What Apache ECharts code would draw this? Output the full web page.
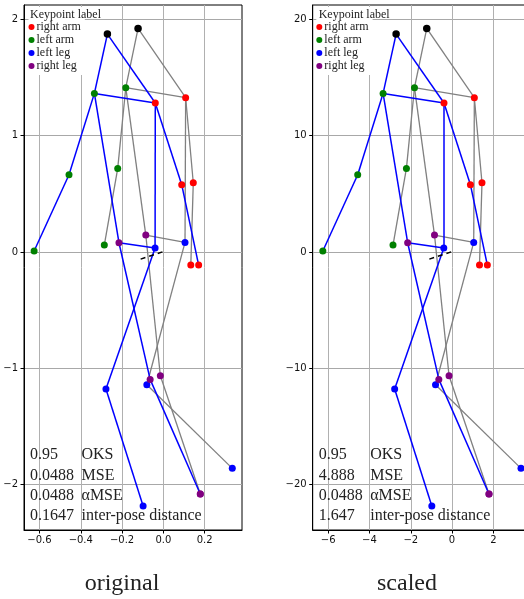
<!DOCTYPE html>
<html>
<head>
<meta charset="utf-8">
<script src="https://cdn.jsdelivr.net/npm/echarts@6/dist/echarts.min.js"></script>
<style>
  html, body { margin: 0; padding: 0; background: #fff; overflow: hidden; }
  /* right panel runs past the window edge, so the canvas is a bit wider than the window */
  #chart { width: 534px; height: 599px; }
</style>
</head>
<body>
<div id="chart"></div>
<script>
// ===== data (original units; the right panel is the same pose x10) =====
const SCALE = 10

// pose A (blue skeleton)
const POSE_A_X = [-0.271, -0.334, -0.039, -0.457, -0.626, 0.089, 0.171, -0.215, -0.040, -0.064, 0.179, -0.278, -0.098]
const POSE_A_Y = [1.874, 1.364, 1.281, 0.665, 0.009, 0.579, -0.112, 0.080, 0.034, -1.095, -2.081, -1.178, -2.184]
const POSE_A_LABEL = ['head', 'left arm', 'right arm', 'left arm', 'left arm', 'right arm', 'right arm',
  'right leg', 'left leg', 'right leg', 'right leg', 'left leg', 'left leg']

// pose B (gray skeleton)
const POSE_B_X = [-0.1225, -0.182, 0.108, -0.221, -0.286, 0.145, 0.133, -0.085, 0.105, -0.0145, 0.179, -0.080, 0.334]
const POSE_B_Y = [1.923, 1.413, 1.327, 0.719, 0.060, 0.596, -0.112, 0.146, 0.083, -1.064, -2.081, -1.141, -1.860]
const POSE_B_LABEL = POSE_A_LABEL

// skeleton links (index pairs into the pose arrays)
const LINKS = [[0, 1], [0, 2], [1, 2], [1, 3], [3, 4], [2, 5], [5, 6],
  [1, 7], [2, 8], [7, 8], [7, 9], [9, 10], [8, 11], [11, 12]]

// small dashed mark near the origin
const MARK_X = [-0.110, -0.003]
const MARK_Y = [-0.061, 0.002]

const LEGEND_NAMES = ['right arm', 'left arm', 'left leg', 'right leg']
const LABEL_COLORS = { 'head': '#000000', 'right arm': '#ff0000', 'left arm': '#008000', 'left leg': '#0000ff', 'right leg': '#800080' }

const X_TICKS_ORIG = [-0.6, -0.4, -0.2, 0, 0.2]
const Y_TICKS_ORIG = [-2, -1, 0, 1, 2]
const X_TICKS_SCALED = [-6, -4, -2, 0, 2]
const Y_TICKS_SCALED = [-20, -10, 0, 10, 20]

const METRIC_NAMES = ['OKS', 'MSE', '\u03b1MSE', 'inter-pose distance']
const METRICS_ORIG = ['0.95', '0.0488', '0.0488', '0.1647']
const METRICS_SCALED = ['0.95', '4.888', '0.0488', '1.647']

const PANEL_TITLES = ['original', 'scaled']

// ===== layout =====
const PANELS = [
  { left: 24, ticksX: X_TICKS_ORIG, ticksY: Y_TICKS_ORIG, scale: 1, metrics: METRICS_ORIG, decimals: 1, titleX: 122, legendLeft: 28.5 },
  { left: 312.7, ticksX: X_TICKS_SCALED, ticksY: Y_TICKS_SCALED, scale: SCALE, metrics: METRICS_SCALED, decimals: 0, titleX: 407, legendLeft: 316.3 },
]
const GRID_TOP = 5
const GRID_W = 218
const GRID_H = 525
const X_RANGE = [-0.675, 0.381]
const Y_RANGE = [-2.39, 2.124]

const SERIF = '"Liberation Serif", "Times New Roman", serif'
const SANS = '"DejaVu Sans", sans-serif'

const minus = s => String(s).replace('-', '\u2212')

function linkSeries(xs, ys, s, idx, color, width) {
  return {
    type: 'lines',
    coordinateSystem: 'cartesian2d',
    xAxisIndex: idx,
    yAxisIndex: idx,
    silent: true,
    z: color === '#0000ff' ? 3 : 2,
    lineStyle: { color, width, opacity: 1 },
    data: LINKS.map(([a, b]) => ({ coords: [[xs[a] * s, ys[a] * s], [xs[b] * s, ys[b] * s]] })),
  }
}

const grids = [], xAxes = [], yAxes = [], series = [], legends = [], graphics = []

PANELS.forEach((p, idx) => {
  const s = p.scale
  grids.push({ left: p.left, top: GRID_TOP, width: GRID_W, height: GRID_H, show: true, borderColor: '#000', borderWidth: 1, backgroundColor: 'transparent' })

  xAxes.push({
    type: 'value', gridIndex: idx, min: X_RANGE[0] * s, max: X_RANGE[1] * s,
    axisLine: { show: true, onZero: false, lineStyle: { color: '#000', width: 1 } },
    axisTick: { show: true, length: 3.5, lineStyle: { color: '#000' }, customValues: p.ticksX },
    axisLabel: { customValues: p.ticksX, margin: 5, fontSize: 10, fontFamily: SANS, color: '#111',
      formatter: v => minus(v.toFixed(p.decimals)) },
    splitLine: { show: true, lineStyle: { color: '#b0b0b0', width: 1 } },
  })
  yAxes.push({
    type: 'value', gridIndex: idx, min: Y_RANGE[0] * s, max: Y_RANGE[1] * s,
    axisLine: { show: true, onZero: false, lineStyle: { color: '#000', width: 1 } },
    axisTick: { show: true, length: 3.5, lineStyle: { color: '#000' }, customValues: p.ticksY },
    axisLabel: { customValues: p.ticksY, margin: 6, fontSize: 10, fontFamily: SANS, color: '#111',
      formatter: v => minus(v) },
    splitLine: { show: true, lineStyle: { color: '#a8a8a8', width: 1 } },
  })

  series.push(linkSeries(POSE_B_X, POSE_B_Y, s, idx, '#808080', 1.3))
  series.push(linkSeries(POSE_A_X, POSE_A_Y, s, idx, '#0000ff', 1.5))

  series.push({
    type: 'line', xAxisIndex: idx, yAxisIndex: idx, silent: true, symbol: 'none', z: 4,
    lineStyle: { color: '#000', width: 1.5, type: [5, 4] },
    data: MARK_X.map((x, i) => [x * s, MARK_Y[i] * s]),
  })

  Object.keys(LABEL_COLORS).forEach(name => {
    const pts = []
    POSE_B_LABEL.forEach((l, i) => { if (l === name) pts.push([POSE_B_X[i] * s, POSE_B_Y[i] * s]) })
    POSE_A_LABEL.forEach((l, i) => { if (l === name) pts.push([POSE_A_X[i] * s, POSE_A_Y[i] * s]) })
    series.push({
      name, type: 'scatter', xAxisIndex: idx, yAxisIndex: idx, silent: true, z: 5,
      symbol: 'circle', symbolSize: name === 'head' ? 7.5 : 7,
      itemStyle: { color: LABEL_COLORS[name], opacity: 1 },
      data: pts,
    })
  })

  legends.push({
    data: LEGEND_NAMES.map(n => ({ name: n, icon: 'circle' })),
    orient: 'vertical', left: p.legendLeft, top: 7,
    padding: [14, 4, 3, 0], itemGap: 1, itemWidth: 6, itemHeight: 6,
    backgroundColor: '#fff', selectedMode: false,
    textStyle: { fontFamily: SERIF, fontSize: 12, color: '#222', lineHeight: 12, padding: [0, 0, 0, -3] },
  })
  graphics.push({
    type: 'text', z: 100, silent: true,
    style: { text: 'Keypoint label', x: p.left + 6, y: 14.5, font: '12px ' + SERIF, fill: '#222',
      verticalAlign: 'middle', textVerticalAlign: 'middle' },
  })

  const rowY = [455, 475.5, 496, 516]
  p.metrics.forEach((m, i) => {
    graphics.push({
      type: 'text', z: 100, silent: true,
      style: { text: m, x: p.left + 6, y: rowY[i], font: '16px ' + SERIF, fill: '#222',
        verticalAlign: 'middle', textVerticalAlign: 'middle' },
    })
    graphics.push({
      type: 'text', z: 100, silent: true,
      style: { text: METRIC_NAMES[i], x: p.left + 57.5, y: rowY[i], font: '16px ' + SERIF, fill: '#222',
        verticalAlign: 'middle', textVerticalAlign: 'middle' },
    })
  })

  graphics.push({
    type: 'text', z: 100, silent: true,
    style: { text: PANEL_TITLES[idx], x: p.titleX, y: 584, font: '24px ' + SERIF, fill: '#222',
      align: 'center', textAlign: 'center', verticalAlign: 'middle', textVerticalAlign: 'middle' },
  })
})

const chart = echarts.init(document.getElementById('chart'), null, { renderer: 'canvas' })
chart.setOption({
  animation: false,
  backgroundColor: '#fff',
  grid: grids,
  xAxis: xAxes,
  yAxis: yAxes,
  legend: legends,
  series,
  graphic: graphics,
})
</script>
</body>
</html>
